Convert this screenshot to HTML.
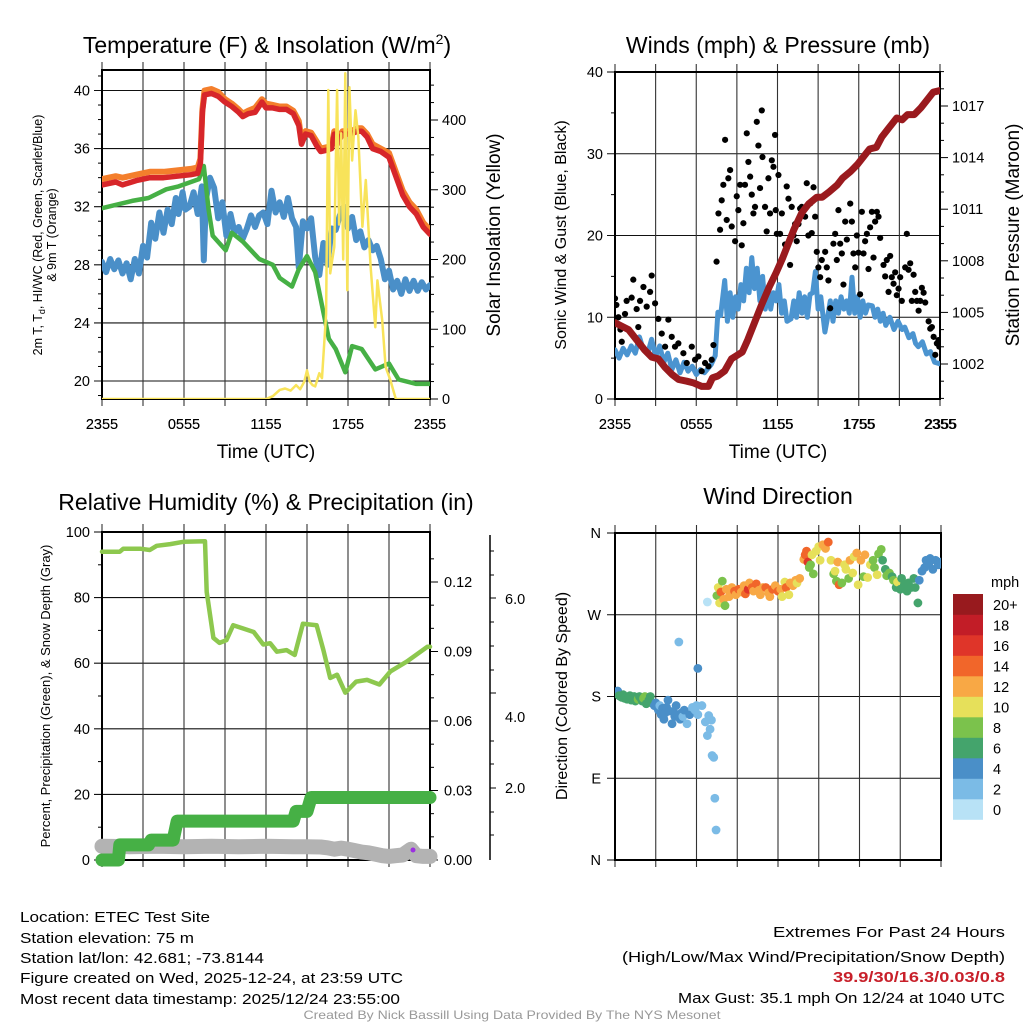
<!DOCTYPE html>
<html><head><meta charset="utf-8"><style>
html,body{margin:0;padding:0;background:#fff;}
svg{display:block;font-family:"Liberation Sans",Arial,sans-serif;}
</style></head><body>
<svg id="fig" xmlns="http://www.w3.org/2000/svg" width="1024" height="1024" viewBox="0 0 1024 1024">
<rect width="1024" height="1024" fill="#fff"/>
<g id="p1"></g>
<g id="p2"></g>
<g id="p3"></g>
<g id="p4"></g>
<g fill="#000">
<text x="267" y="53" font-size="23" text-anchor="middle">Temperature (F) &amp; Insolation (W/m<tspan font-size="14" dy="-9">2</tspan><tspan dy="9">)</tspan></text>
<text x="778" y="53" font-size="23" text-anchor="middle">Winds (mph) &amp; Pressure (mb)</text>
<text x="266" y="510" font-size="23" text-anchor="middle">Relative Humidity (%) &amp; Precipitation (in)</text>
<text x="778" y="504" font-size="23" text-anchor="middle">Wind Direction</text>
<text x="266" y="458" font-size="19" text-anchor="middle">Time (UTC)</text>
<text x="778" y="458" font-size="19" text-anchor="middle">Time (UTC)</text>
<text transform="translate(42,235) rotate(-90)" font-size="12.5" text-anchor="middle">2m T, T<tspan font-size="9" dy="3">d</tspan><tspan dy="-3">, HI/WC (Red, Green, Scarlet/Blue)</tspan></text>
<text transform="translate(56,235) rotate(-90)" font-size="12.5" text-anchor="middle">&amp; 9m T (Orange)</text>
<text transform="translate(500,235) rotate(-90)" font-size="19" text-anchor="middle">Solar Insolation (Yellow)</text>
<text transform="translate(566,235) rotate(-90)" font-size="16" text-anchor="middle">Sonic Wind &amp; Gust (Blue, Black)</text>
<text transform="translate(1019,235) rotate(-90)" font-size="19" text-anchor="middle">Station Pressure (Maroon)</text>
<text transform="translate(50,696) rotate(-90)" font-size="13" text-anchor="middle">Percent, Precipitation (Green), &amp; Snow Depth (Gray)</text>
<text transform="translate(567,696) rotate(-90)" font-size="16" text-anchor="middle">Direction (Colored By Speed)</text>
</g>
<g font-size="15" fill="#000">
<text x="20" y="922" textLength="190" lengthAdjust="spacingAndGlyphs">Location: ETEC Test Site</text>
<text x="20" y="943" textLength="174" lengthAdjust="spacingAndGlyphs">Station elevation: 75 m</text>
<text x="20" y="963" textLength="244" lengthAdjust="spacingAndGlyphs">Station lat/lon: 42.681; -73.8144</text>
<text x="20" y="983" textLength="383" lengthAdjust="spacingAndGlyphs">Figure created on Wed, 2025-12-24, at 23:59 UTC</text>
<text x="20" y="1004" textLength="380" lengthAdjust="spacingAndGlyphs">Most recent data timestamp: 2025/12/24 23:55:00</text>
<text x="1005" y="937" text-anchor="end" textLength="232" lengthAdjust="spacingAndGlyphs">Extremes For Past 24 Hours</text>
<text x="1005" y="962" text-anchor="end" textLength="383" lengthAdjust="spacingAndGlyphs">(High/Low/Max Wind/Precipitation/Snow Depth)</text>
<text x="1005" y="982" text-anchor="end" fill="#c8202a" font-weight="bold" textLength="172" lengthAdjust="spacingAndGlyphs">39.9/30/16.3/0.03/0.8</text>
<text x="1005" y="1003" text-anchor="end" textLength="327" lengthAdjust="spacingAndGlyphs">Max Gust: 35.1 mph On 12/24 at 1040 UTC</text>
<text x="512" y="1019" text-anchor="middle" font-size="12" fill="#999" textLength="417" lengthAdjust="spacingAndGlyphs">Created By Nick Bassill Using Data Provided By The NYS Mesonet</text>
</g>
</svg>
<script>
// ---------- DATA ----------
const xTickLabels = ["2355","0555","1155","1755","2355"];
const tempTicks = [20,24,28,32,36,40];
const solarTicks = [0,100,200,300,400];
const windTicks = [0,10,20,30,40];
const pressTicks = [1002,1005,1008,1011,1014,1017];
const rhTicks = [0,20,40,60,80,100];
const precipTicks = ["0.00","0.03","0.06","0.09","0.12"];
const snowTickLabels = ["2.0","4.0","6.0"];
const dirTickLabels = ["N","E","S","W","N"];
const speedBinLabels = ["0","2","4","6","8","10","12","14","16","18","20+"];

const redH = [0,1,1.5,2.5,3.5,4.5,5.5,6.5,7.0,7.2,7.35,7.5,8.0,8.5,9.0,9.5,10.0,10.3,10.7,11.2,11.7,12.0,12.5,13.0,13.5,14.0,14.4,14.6,14.9,15.3,15.7,16.0,16.5,16.8,17.0,17.2,17.6,18.2,18.7,19.0,19.4,19.8,20.4,21.0,21.5,22.0,22.5,23.0,23.5,24];
const redT = [33.5,33.7,33.5,33.8,34.0,34.0,34.1,34.2,34.3,35.0,38.5,39.7,39.8,39.6,39.2,38.9,38.5,38.2,38.4,38.5,39.2,38.8,38.8,38.7,38.7,38.4,37.6,36.3,37.0,36.9,36.2,35.8,35.9,36.0,37.0,36.3,37.0,37.0,37.2,37.2,36.8,36.0,35.8,35.4,34.1,32.8,32.0,31.5,30.6,30.1];
const orangeT = [33.9,34.1,34.0,34.2,34.4,34.4,34.5,34.6,34.7,35.3,38.7,40.0,40.1,39.9,39.4,39.1,38.7,38.4,38.6,38.8,39.4,39.1,39.0,38.9,38.9,38.6,37.9,36.6,37.2,37.1,36.5,36.0,36.1,36.2,37.2,36.6,37.2,37.2,37.4,37.4,37.0,36.3,36.0,35.7,34.4,33.1,32.3,31.8,30.9,30.4];
const dewH = [0,2.2,3.4,4.7,5.6,7.1,7.45,7.8,8.1,9.05,9.5,10.3,11.5,12.5,13.0,13.9,14.4,15.0,15.6,16.1,16.6,17.1,17.8,18.3,19.0,20.0,21.0,21.7,23.0,24];
const dewT = [31.9,32.4,32.6,33.2,33.4,33.9,34.8,31.8,30.0,29.0,30.2,29.6,28.4,28.0,27.1,26.5,27.7,28.6,27.5,25.2,22.9,22.2,20.6,22.4,22.2,20.8,21.2,20.1,19.8,19.8];
const wcH = [0,0.3,0.6,0.9,1.2,1.5,1.8,2.1,2.4,2.7,3.0,3.3,3.6,3.9,4.2,4.5,4.8,5.1,5.4,5.6,5.9,6.1,6.4,6.7,7.0,7.3,7.45,7.6,7.9,8.2,8.5,8.8,9.1,9.4,9.7,10.0,10.3,10.6,10.9,11.2,11.5,11.8,12.1,12.4,12.7,13.0,13.3,13.6,13.9,14.2,14.4,14.7,15.0,15.3,15.6,15.9,16.2,16.5,16.8,17.1,17.4,17.7,18.0,18.3,18.6,18.9,19.2,19.5,19.8,20.1,20.4,20.7,21.0,21.3,21.6,21.9,22.2,22.5,22.8,23.1,23.4,23.7,24];
const wcT = [28.2,27.5,28.4,27.7,28.3,27.4,28.1,27.0,28.4,27.4,29.3,28.5,30.9,29.8,31.6,30.2,31.8,30.8,32.6,31.5,33.0,31.8,32.0,33.0,31.5,33.4,28.3,32.5,34.0,33.3,31.2,32.3,30.0,31.5,30.2,30.6,29.8,30.5,31.4,30.6,31.4,31.6,30.8,33.1,31.6,32.3,31.3,32.6,31.2,30.6,27.8,31.0,30.5,31.2,28.5,27.3,29.5,28.0,30.5,30.4,31.4,32.0,30.5,31.3,29.7,30.3,29.2,29.7,29.0,29.3,28.4,27.0,27.6,26.3,26.9,26.0,27.0,26.2,26.9,26.2,26.8,26.3,26.6];
const solarH = [0,12,12.5,13,13.4,13.8,14.2,14.5,14.8,15.0,15.2,15.4,15.6,15.9,16.1,16.4,16.56,16.7,16.85,17.0,17.2,17.35,17.5,17.65,17.8,17.95,18.1,18.3,18.55,18.75,19.05,19.3,19.65,20,20.15,20.5,20.75,21.1,21.5,24];
const solarW = [0,0,4,13,15,12,20,14,25,41,25,20,18,37,30,122,443,180,200,218,443,250,381,200,467,156,447,342,414,376,247,314,190,103,170,113,46,27,0,0];

const windH = [0,0.3,0.6,0.9,1.2,1.5,1.8,2.1,2.4,2.7,3,3.3,3.6,3.9,4.2,4.5,4.8,5.1,5.4,5.7,6,6.3,6.6,6.9,7.1,7.4,7.6,7.8,8.1,8.3,8.5,8.7,8.9,9.1,9.3,9.5,9.7,9.9,10.1,10.3,10.5,10.7,10.9,11.1,11.3,11.5,11.7,11.9,12.1,12.3,12.5,12.7,13.0,13.2,13.4,13.6,13.8,14.0,14.2,14.4,14.6,14.8,15.0,15.2,15.5,15.7,15.9,16.1,16.3,16.5,16.7,16.9,17.1,17.3,17.5,17.7,17.9,18.1,18.3,18.5,18.7,19.0,19.2,19.4,19.6,19.8,20.0,20.3,20.6,20.9,21.2,21.4,21.7,22.0,22.2,22.4,22.7,23.0,23.3,23.6,24];
const windMph = [6,5,6.2,5.4,6.5,5.6,7.6,6,5.5,7.3,5.2,6.5,4.5,5.6,3.6,4.8,3.2,4.5,3.4,4,3,3.6,3.2,3.8,4.2,5.3,10.6,10.2,14.5,9.5,13,10,12.5,11,14,12,16,13,17.3,13.5,16,12,15,11,13.5,11,13,12,14,10.5,12,9.5,9.8,12,10,13,10.5,12.5,10,12.8,13,15.6,11,12.5,8.2,10,12,9.5,12,10.5,12.5,11,12,10.5,14.9,10.5,12.5,10,12,10.5,11.5,11.4,10,11,9.5,10.5,9,10,8.5,9.5,8.5,8.8,7.5,8,6.8,6.4,7,5.5,5.8,4.5,4.3];
const gustH = [0,0.1,0.25,0.4,0.5,0.74,0.86,1.23,1.35,1.6,1.72,1.85,2.1,2.34,2.59,2.71,2.96,3.2,3.45,3.7,3.94,4.19,4.43,4.68,5.05,5.3,5.67,5.91,6.16,6.4,6.65,6.9,7.14,7.27,7.5,7.64,7.76,7.88,8.0,8.13,8.25,8.37,8.5,8.62,8.87,8.99,9.11,9.24,9.36,9.48,9.6,9.73,9.85,9.98,10.1,10.22,10.34,10.47,10.59,10.71,10.84,10.89,11.08,11.2,11.33,11.45,11.58,11.7,11.82,11.87,11.95,12.07,12.19,12.32,12.56,12.68,12.81,12.93,13.05,13.18,13.3,13.42,13.55,13.67,13.79,14.04,14.16,14.28,14.41,14.53,14.66,14.78,14.9,15.02,15.15,15.27,15.52,15.64,15.76,15.89,16.13,16.26,16.38,16.5,16.63,16.75,16.87,17.0,17.12,17.37,17.49,17.61,17.74,17.86,17.98,18.1,18.23,18.35,18.47,18.6,18.72,18.84,18.97,19.09,19.21,19.34,19.46,19.58,19.83,19.95,20.07,20.2,20.32,20.44,20.57,20.69,20.81,20.94,21.06,21.18,21.43,21.55,21.68,21.8,21.92,22.05,22.17,22.29,22.42,22.54,22.66,22.79,22.91,23.16,23.28,23.4,23.53,23.65,23.77,23.89,23.95,24.0];
const gustMph = [12.3,11.5,10,8.5,7,10.4,12,12.4,14.6,11,8.8,12,13.7,11.3,13.1,15.1,11.7,9.8,8,6.4,9.7,7.6,6.4,6.8,5.6,4.4,6.4,4.8,5.2,3.4,4.4,4,4.8,6.6,16.8,22.7,20.7,24.3,26.2,31.7,21.9,27,28,21.1,19.3,24.8,23.1,26.2,18.8,21.5,26.2,32.5,29,27.2,25,22.7,23.5,33.9,31,25.8,35.3,29.6,23.5,20.5,27,22.7,29.2,28.4,32.3,23.1,20.2,27.4,20.2,22.7,18.9,26,24.5,16.4,23.5,20,21.4,19.3,21.4,23.3,23.5,22.3,26.4,20,23.9,20.3,25.9,22.3,18,16.1,14.9,17,18,16.1,14.5,11.1,19,20.2,17,23.1,19,17.8,14,21.7,19.5,23.9,21.7,17.8,16.1,20,17.9,12.8,22.9,17.8,19.3,20.2,15.9,21,22.9,17.3,21.7,22.9,22.3,19.7,16.4,15,17,13.1,17.5,14.9,14.1,15.5,12.7,13.5,14.9,12,16.1,20.2,15.8,16.6,12,15.2,13.1,12,10.8,12,13.6,13,11.8,9.5,8.6,8.8,7.6,5.4,6.8,7.2,6.4,6.6];
const pressH = [0,0.5,1.0,1.6,2.2,2.7,3.2,3.7,4.2,4.7,5.3,5.8,6.4,6.9,7.2,7.6,8.1,8.6,9.0,9.4,9.8,10.3,10.8,11.4,11.9,12.4,12.8,13.2,13.8,14.3,14.9,15.3,15.8,16.4,16.8,17.4,17.9,18.3,18.8,19.3,19.7,20.2,20.8,21.2,21.6,22.1,22.6,23.1,23.5,24];
const pressMb = [1004.4,1004.2,1004.0,1003.4,1002.8,1002.4,1002.3,1001.8,1001.4,1001.1,1001.0,1000.9,1000.7,1000.7,1001.2,1001.3,1001.6,1002.3,1002.5,1002.7,1003.4,1004.4,1005.4,1006.5,1007.3,1008.2,1009.0,1009.8,1010.8,1011.3,1011.7,1011.7,1012.0,1012.4,1012.8,1013.2,1013.6,1014.0,1014.5,1014.6,1015.2,1015.7,1016.3,1016.2,1016.5,1016.5,1016.9,1017.4,1017.8,1017.9];

const rhH = [0,1.3,1.56,2.8,3.5,4.0,5.0,5.95,7.54,7.66,8.15,8.6,9.1,9.6,10.3,11.1,11.8,12.3,12.8,13.5,14.1,14.7,15.7,16.2,16.7,17.2,17.8,18.6,19.4,20.3,21.1,22.3,23.8,24];
const rhPct = [94,94,94.9,94.9,94.5,95.8,96.3,97,97.2,81.7,67.7,66.2,67,71.6,70.6,69.5,65.7,66.1,63.5,64,62.5,72,71.6,64,55.5,56.5,51,54.4,54.9,53.5,57.5,60.5,65,65];
const precipH = [0,1.2,1.3,3.4,3.6,5.2,5.5,14.0,14.2,15.0,15.3,24];
const precipIn = [0,0,0.0065,0.0065,0.0086,0.0086,0.0168,0.0168,0.021,0.021,0.027,0.027];
const snowH = [0,2,4,6,8,10,12,14,15,16,16.5,17,17.5,18,18.5,19,19.5,20,20.5,21,21.5,22,22.6,23,23.5,24];
const snowIn = [0.38,0.37,0.38,0.37,0.38,0.37,0.38,0.37,0.37,0.36,0.34,0.3,0.33,0.3,0.26,0.22,0.2,0.16,0.12,0.1,0.12,0.14,0.3,0.12,0.1,0.1];

const dirH = [0,0.1,0.2,0.3,0.4,0.5,0.6,0.7,0.8,0.9,1.0,1.1,1.2,1.3,1.4,1.5,1.6,1.7,1.8,1.9,2.0,2.1,2.2,2.3,2.5,2.6,2.7,2.9,3.0,3.1,3.2,3.3,3.4,3.5,3.6,3.7,3.8,3.9,4.0,4.2,4.3,4.4,4.5,4.6,4.8,4.9,5.0,5.1,5.3,5.5,5.7,5.9,6.0,6.1,4.7,6.1,6.8,6.4,6.65,6.9,7.1,6.8,7.0,7.15,7.27,7.35,7.44,
7.5,7.6,7.7,7.8,7.9,8.0,8.1,8.2,8.4,8.5,8.6,8.8,8.9,9.1,9.3,9.5,9.6,9.8,9.9,10.1,10.2,10.4,10.6,10.7,10.9,11.1,11.3,11.4,11.6,11.8,12.0,12.2,12.3,12.5,12.6,12.8,12.9,13.1,13.3,13.4,13.6,
13.9,14.0,14.1,14.2,14.3,14.4,14.5,14.6,14.8,15.0,15.1,15.3,15.5,15.7,15.9,16.1,16.2,16.3,16.4,16.5,16.7,16.9,17.0,17.2,17.3,17.5,17.6,17.8,17.9,18.1,18.3,18.4,18.6,18.8,19.0,19.1,19.3,19.4,19.6,19.7,
19.9,20.0,20.2,20.4,20.5,20.7,20.8,21.0,21.1,21.3,21.5,21.6,21.8,22.0,22.1,22.3,22.4,22.6,22.8,22.9,23.1,23.2,23.4,23.6,23.8,24.0];
const dirDeg = [185,183,186,181,180,179,182,178,180,177,179,181,176,178,180,175,179,177,180,178,175,178,180,172,176,180,173,170,173,168,165,170,160,167,155,162,168,176,164,150,163,158,170,160,155,162,158,165,150,160,168,165,170,160,240,211,284,170,152,159,154,137,144,115,113,68,33,
291,300,283,295,307,287,280,298,290,294,300,296,292,298,295,302,293,298,305,300,296,304,297,292,300,300,294,290,298,302,296,298,290,306,300,292,305,302,308,305,310,
331,336,340,328,322,325,336,315,340,345,330,347,343,350,330,315,318,307,328,303,305,325,320,310,330,316,334,338,303,330,312,336,311,325,330,322,314,337,342,330,
320,313,316,312,308,300,306,298,310,303,296,305,300,310,300,283,308,318,322,330,326,332,320,330,325,328];
const dirSpd = [6,6,4,6,6,6,6,6,6,6,6,6,6,6,6,6,6,8,6,6,6,8,8,6,6,6,6,4,4,4,4,2,4,4,4,4,4,4,4,4,4,4,4,4,4,4,2,4,2,4,2,2,2,2,2,4,0,2,2,2,2,2,2,2,2,2,2,
8,10,10,14,8,12,8,12,12,12,12,14,12,14,12,12,14,16,12,14,12,14,12,12,12,14,12,12,14,12,14,12,10,10,14,10,12,12,12,10,12,
12,14,14,16,8,8,10,8,10,10,10,12,12,14,10,8,10,8,12,14,8,10,10,8,12,10,10,12,10,12,8,12,10,10,8,8,10,8,8,6,
6,8,8,6,8,6,10,6,6,6,6,6,6,6,6,6,4,4,4,4,4,4,4,4,4,4];

// ---------- HELPERS ----------
const NS = "http://www.w3.org/2000/svg";
function mk(parent, tag, attrs){ const e=document.createElementNS(NS,tag); for(const k in attrs) e.setAttribute(k,attrs[k]); parent.appendChild(e); return e; }
function lin(d0,d1,r0,r1){ return v => r0 + (v-d0)*(r1-r0)/(d1-d0); }
function pathD(xs, ys, fx, fy){ return xs.map((h,i)=>(i?"L":"M")+fx(h).toFixed(1)+","+fy(ys[i]).toFixed(1)).join(""); }
function speedColor(s){
  const cols=["#b8e2f6","#7bbbe6","#4a8fc8","#44a46c","#7bc24c","#e6e05a","#f8a845","#f1662a","#df3529","#c21d27","#981a1e"];
  return cols[Math.min(10, Math.floor((s+1)/2))];
}
function frame(g, x0,x1,y0,y1){
  for(let i=0;i<=8;i++){
    const x = x0 + (x1-x0)*i/8;
    const v = mk(g,"line",{x1:x,x2:x,y1:y0-8,y2:y1+7,stroke:"#333","stroke-width":1.1});
    
    
  }
  for(let i=0;i<5;i++){
    const x = x0 + (x1-x0)*i/4;
    const t = mk(g,"text",{x:x,y:429,"font-size":14.5,"text-anchor":"middle"});
    t.textContent = xTickLabels[i];
    
    
  }
  const r = mk(g,"rect",{x:x0,y:y0,width:x1-x0,height:y1-y0,fill:"none",stroke:"#000","stroke-width":2});
  
  
}
function hGrid(g,x0,x1,y){ const l=mk(g,"line",{x1:x0-8,x2:x1,y1:y,y2:y,stroke:"#111","stroke-width":1.1});
  
   }
function tickLabel(g,x,y,txt,anchor,name){ const t=mk(g,"text",{x:x,y:y+5,"font-size":14.5,"text-anchor":anchor}); t.textContent=txt;
  
   }
function minorTick(g,x,y,len){ const l=mk(g,"line",{x1:x,x2:x+len,y1:y,y2:y,stroke:"#000","stroke-width":1}); 
  
   }
function line(g,xs,ys,fx,fy,color,w,name){ const p=mk(g,"path",{d:pathD(xs,ys,fx,fy),fill:"none",stroke:color,"stroke-width":w,"stroke-linejoin":"round","stroke-linecap":"round"});
  
   return p; }

// ---------- PANEL 1 ----------
(function(){
  const g=document.getElementById('p1'); const x0=102,x1=430,y0=70,y1=399;
  const fx=lin(0,24,x0,x1), fy=lin(40,20,90.5,381), fs=lin(0,400,399,120);
  tempTicks.forEach(v=>{ hGrid(g,x0,x1,fy(v)); tickLabel(g,x0-12,fy(v),String(v),"end","y-tick-label"); });
  for(let v=19;v<=41;v++) if(v%4) minorTick(g,x0-4,fy(v),4);
  solarTicks.forEach(v=>{ minorTick(g,x1,fs(v),8); tickLabel(g,x1+12,fs(v),String(v),"start","y2-tick-label"); });
  for(let v=25;v<=450;v+=25) if(v%100) minorTick(g,x1,fs(v),4);
  frame(g,x0,x1,y0,y1);
  const cp=mk(mk(g,"defs",{}),"clipPath",{id:"c1"}); mk(cp,"rect",{x:x0,y:y0,width:x1-x0,height:y1-y0});
  const cg=mk(g,"g",{"clip-path":"url(#c1)"});
  line(cg,wcH,wcT,fx,fy,"#4a8fc8",6,"wind-chill-line");
  line(cg,dewH,dewT,fx,fy,"#46b045",4.5,"dewpoint-line");
  line(cg,redH,orangeT,fx,fy,"#f47f2c",6,"temp-9m-line");
  line(cg,redH,redT,fx,fy,"#d7262a",5.5,"temp-2m-line");
  line(cg,solarH,solarW,fx,fs,"#f8e35a",2.5,"solar-line");
})();

// ---------- PANEL 2 ----------
(function(){
  const g=document.getElementById('p2'); const x0=615,x1=940,y0=72,y1=399;
  const fx=lin(0,24,x0,x1), fy=lin(0,40,399,72), fp=lin(1002,1017,364,106);
  windTicks.forEach(v=>{ if(v>0&&v<40) hGrid(g,x0,x1,fy(v)); else minorTick(g,x0-8,fy(v),8); tickLabel(g,x0-12,fy(v),String(v),"end","y-tick-label"); });
  for(let v=5;v<40;v+=10) minorTick(g,x0-4,fy(v),4);
  pressTicks.forEach(v=>{ minorTick(g,x1,fp(v),8); tickLabel(g,x1+12,fp(v),String(v),"start","y2-tick-label"); });
  for(let v=1000;v<=1019;v++) if((v-1002)%3) minorTick(g,x1,fp(v),4);
  frame(g,x0,x1,y0,y1);
  const cp=mk(mk(g,"defs",{}),"clipPath",{id:"c2"}); mk(cp,"rect",{x:x0,y:y0,width:x1-x0,height:y1-y0});
  const cg=mk(g,"g",{"clip-path":"url(#c2)"});
  line(cg,windH,windMph,fx,fy,"#4b94d0",5,"sonic-wind-line");
  gustH.forEach((h,i)=>{ const c=mk(cg,"circle",{cx:fx(h),cy:fy(gustMph[i]),r:3.1,fill:"#000"});
    
     });
  line(cg,pressH,pressMb,fx,fp,"#9a1a1e",7,"pressure-line");
})();

// ---------- PANEL 3 ----------
(function(){
  const g=document.getElementById('p3'); const x0=102,x1=430,y0=532,y1=860;
  const fx=lin(0,24,x0,x1), fy=lin(0,100,860,532), fpr=lin(0,0.03,860,790.5), fsn=lin(0,2,860,788);
  rhTicks.forEach(v=>{ if(v>0&&v<100) hGrid(g,x0,x1,fy(v)); else minorTick(g,x0-8,fy(v),8); tickLabel(g,x0-12,fy(v),String(v),"end","y-tick-label"); });
  for(let v=10;v<100;v+=20) minorTick(g,x0-4,fy(v),4);
  precipTicks.forEach((s,i)=>{ const y=fpr(i*0.03); minorTick(g,x1,y,8); tickLabel(g,x1+14,y,s,"start","precip-tick-label"); });
  for(let i=0;i<14;i++) if(i%3) minorTick(g,x1,fpr(i*0.01),4);
  frame(g,x0,x1,y0,y1);
  const ax=mk(g,"line",{x1:490,x2:490,y1:535,y2:860,stroke:"#000","stroke-width":1.5});
  
  
  const snowY=[788,717,599];
  snowTickLabels.forEach((s,i)=>{ tickLabel(g,505,snowY[i],s,"start","snow-tick-label"); });
  [788,693,598].forEach(y=>minorTick(g,490,y,6));
  [835,812,764,741,670,646,622,575,551].forEach(y=>minorTick(g,490,y,4));
  const cp=mk(mk(g,"defs",{}),"clipPath",{id:"c3"}); mk(cp,"rect",{x:x0-8,y:y0,width:x1-x0+16,height:y1-y0+10});
  const cg=mk(g,"g",{"clip-path":"url(#c3)"});
  line(cg,snowH,snowIn,fx,fsn,"#b3b3b3",15,"snow-depth-line");
  line(cg,precipH,precipIn,fx,fpr,"#46b045",13,"precip-line");
  line(cg,rhH,rhPct,fx,fy,"#8dc84e",4.5,"humidity-line");
  const pd=mk(cg,"circle",{cx:413,cy:850,r:2.5,fill:"#9b30e0"});
  
  
})();

// ---------- PANEL 4 ----------
(function(){
  const g=document.getElementById('p4'); const x0=615,x1=941,y0=533,y1=860;
  const fx=lin(0,24,x0,x1), fy=lin(0,360,860,533);
  dirTickLabels.forEach((s,i)=>{ const y=fy(i*90); if(i>0&&i<4) hGrid(g,x0,x1,y); else minorTick(g,x0-8,y,8); tickLabel(g,x0-14,y,s,"end","direction-tick-label"); });
  frame(g,x0,x1,y0,y1);
  const cp=mk(mk(g,"defs",{}),"clipPath",{id:"c4"}); mk(cp,"rect",{x:x0,y:y0,width:x1-x0,height:y1-y0});
  const cg=mk(g,"g",{"clip-path":"url(#c4)"});
  dirH.forEach((h,i)=>{ const c=mk(cg,"circle",{cx:fx(h),cy:fy(dirDeg[i]),r:4.4,fill:speedColor(dirSpd[i])});
    
     });
  const cb=mk(g,"g",{});
  
  
  const u=mk(cb,"text",{x:991,y:587,"font-size":14.5}); u.textContent="mph";
  
  
  speedBinLabels.forEach((s,i)=>{
    const k=10-i; const y=594+k*20.5;
    const r=mk(cb,"rect",{x:953,y:y,width:30,height:20.8,fill:speedColor(i*2)});
    
    
    const t=mk(cb,"text",{x:993,y:y+16,"font-size":14.5}); t.textContent=s;
    
    
  });
})();
</script>
</body></html>
